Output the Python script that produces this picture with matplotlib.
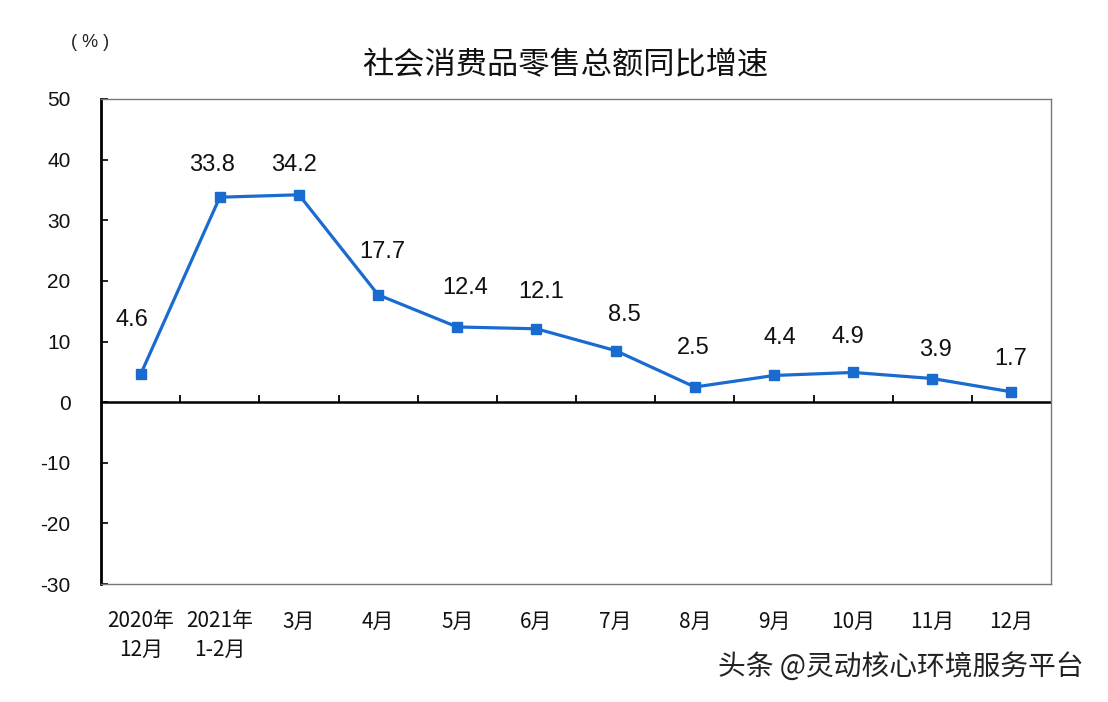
import numpy as np
import matplotlib.pyplot as plt

plt.rcParams['font.family'] = ['Liberation Sans', 'Noto Sans CJK SC', 'DejaVu Sans']
plt.rcParams['axes.unicode_minus'] = False

months = ['2020年\n12月', '2021年\n1-2月', '3月', '4月', '5月', '6月', '7月', '8月', '9月', '10月', '11月', '12月']
growth = [4.6, 33.8, 34.2, 17.7, 12.4, 12.1, 8.5, 2.5, 4.4, 4.9, 3.9, 1.7]

# label offsets in pixels (dx, dy) relative to each point
label_dx = [-9, -8, -5, 4, 8, 5, 9, -2, 6, -5, 3, -1]
label_dy = [54, 32, 30, 43, 39, 37, 36, 39, 37, 35, 29, 33]

fig = plt.figure(figsize=(11.08, 7.02), dpi=100)
ax = fig.add_axes([0.0912, 0.168, 0.8574, 0.691])

x = np.arange(len(months))
blue = '#1a6bd0'
ax.plot(x, growth, color=blue, lw=2.3, marker='s', markersize=7.5, zorder=3)

for i, v in enumerate(growth):
    ax.annotate('%.1f' % v, (x[i], v), xytext=(label_dx[i] * 0.72, label_dy[i] * 0.72),
                textcoords='offset points', ha='center', va='center', fontsize=17, color='#111111')

ax.set_xlim(-0.5, len(months) - 0.5)
ax.set_ylim(-30, 50)
ax.set_yticks(np.arange(-30, 51, 10))
ax.tick_params(axis='y', direction='in', length=5, width=1.3, pad=22, labelsize=15, colors='#111111')
ax.set_xticks(x)
ax.set_xticklabels(months, fontsize=15, linespacing=1.4, family=['Noto Sans CJK SC'], color='#111111')
ax.tick_params(axis='x', length=0, pad=19)

for s in ['top', 'right', 'bottom']:
    ax.spines[s].set_color('#777777')
    ax.spines[s].set_linewidth(1.0)
ax.spines['left'].set_color('black')
ax.spines['left'].set_linewidth(2.0)

# zero line with category boundary ticks
ax.axhline(0, color='black', lw=1.8, zorder=2)
ax.vlines(np.arange(0.5, len(months) - 0.5, 1), 0, 1.1, color='black', lw=1.3, zorder=2)

fig.text(0.51, 0.907, '社会消费品零售总额同比增速', fontsize=22.5, ha='center', va='center',
         family=['Noto Sans CJK SC'], color='#111111')
fig.text(0.081, 0.94, '( % )', fontsize=13, ha='center', va='center', color='#222222')
fig.text(0.648, 0.05, '头条 @灵动核心环境服务平台', fontsize=20, ha='left', va='center',
         family=['Noto Sans CJK SC'], color='#222222')

plt.savefig('out.png', dpi=100)
